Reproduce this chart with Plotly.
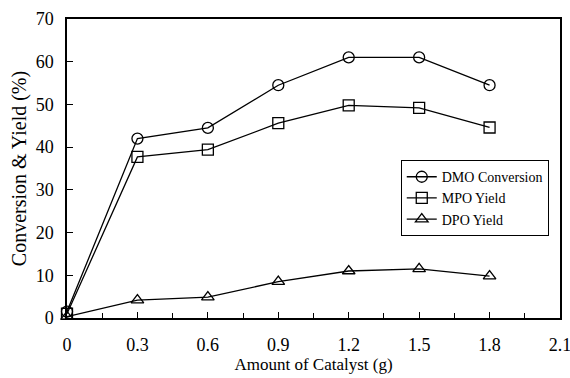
import plotly.graph_objects as go

catalyst = [0, 0.3, 0.6, 0.9, 1.2, 1.5, 1.8]
dmo_conversion = [1.5, 42.0, 44.5, 54.5, 61.0, 61.0, 54.5]
mpo_yield = [1.0, 37.7, 39.4, 45.6, 49.8, 49.2, 44.6]
dpo_yield = [0.3, 4.2, 4.9, 8.5, 11.0, 11.5, 9.8]
x_ticks = [0, 0.3, 0.6, 0.9, 1.2, 1.5, 1.8, 2.1]
x_tick_labels = ["0", "0.3", "0.6", "0.9", "1.2", "1.5", "1.8", "2.1"]

FONT = "Liberation Serif"

fig = go.Figure()
series = [
    ("DMO Conversion", dmo_conversion, "circle-open"),
    ("MPO Yield", mpo_yield, "square-open"),
    ("DPO Yield", dpo_yield, "triangle-up-open"),
]
for name, vals, sym in series:
    fig.add_trace(go.Scatter(
        x=catalyst, y=vals, name=name, mode="lines+markers",
        line=dict(color="black", width=1.3),
        marker=dict(symbol=sym, size=11, color="black", line=dict(width=1.3, color="black")),
        cliponaxis=False,
    ))

fig.update_layout(
    width=570, height=378,
    margin=dict(l=67, r=10, t=19, b=60),
    paper_bgcolor="white", plot_bgcolor="white",
    font=dict(family=FONT, size=15, color="black"),
    showlegend=True,
    legend=dict(
        x=0.677, y=0.528, xanchor="left", yanchor="top",
        bordercolor="black", borderwidth=1, bgcolor="white",
        font=dict(family=FONT, size=14, color="black"),
        tracegroupgap=0,
    ),
)
fig.update_xaxes(
    range=[0, 2.1], tickvals=x_ticks, ticktext=x_tick_labels,
    ticks="inside", ticklen=6, tickcolor="black",
    minor=dict(ticks="inside", dtick=0.15, ticklen=5, tickcolor="black"),
    showline=True, linecolor="black", linewidth=1.5, mirror=True,
    showgrid=False, zeroline=False, automargin=False,
    ticklabelstandoff=10, ticklabeloverflow="allow",
    title=dict(text="Amount of Catalyst (g)", font=dict(family=FONT, size=17), standoff=2),
    tickfont=dict(family=FONT, size=18),
)
fig.update_yaxes(
    range=[0, 70], dtick=10,
    ticks="inside", ticklen=6, tickcolor="black",
    showline=True, linecolor="black", linewidth=1.5, mirror=True,
    showgrid=False, zeroline=False, automargin=False,
    ticklabelstandoff=8, ticklabeloverflow="allow",
    title=dict(text="Conversion & Yield (%)", font=dict(family=FONT, size=20), standoff=4),
    tickfont=dict(family=FONT, size=18),
)

fig.write_html("out.html")
